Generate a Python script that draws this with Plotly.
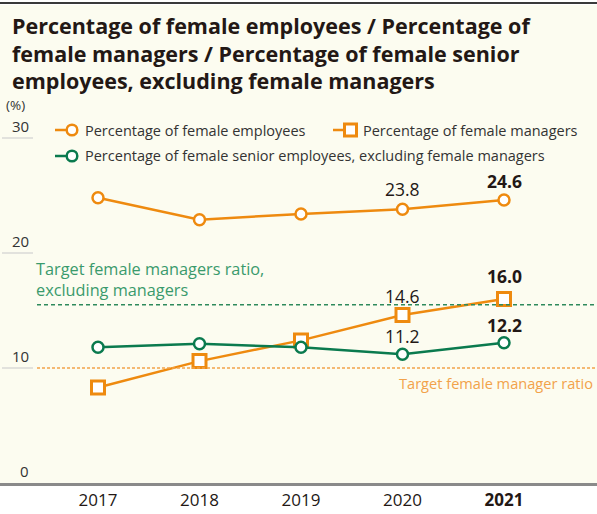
import plotly.graph_objects as go

# ---- data ----
years = [2017, 2018, 2019, 2020, 2021]
female_employees = [24.8, 22.9, 23.4, 23.8, 24.6]
female_managers = [8.3, 10.6, 12.4, 14.6, 16.0]
female_senior = [11.8, 12.1, 11.8, 11.2, 12.2]
y_ticks = [0, 10, 20, 30]
x_ticklabels = ["2017", "2018", "2019", "2020", "<b>2021</b>"]
target_manager_ratio = 10
target_senior_ratio = 15.5

series_names = ["Percentage of female employees",
                "Percentage of female managers",
                "Percentage of female senior employees, excluding female managers"]
title_lines = ["Percentage of female employees / Percentage of",
               "female managers / Percentage of female senior",
               "employees, excluding female managers"]

ORANGE = "#EE8A0F"
GREEN = "#0A7A4E"
TXT = "#231815"
CREAM = "#FCFCF0"
FONT = "Open Sans"

W, H = 597, 514
M_T, M_B = 5, 31
PLOT_H = H - M_T - M_B
PX_PER_UNIT = 11.5
Y_MAX = PLOT_H / PX_PER_UNIT


def px_x(p):
    return p / W


def px_y(p):
    return (H - M_B - p) / PLOT_H


fig = go.Figure()

fig.add_trace(go.Scatter(x=years, y=female_employees, mode="lines+markers",
                         line=dict(color=ORANGE, width=2.5),
                         marker=dict(symbol="circle", size=11, color="white",
                                     line=dict(color=ORANGE, width=2.5)),
                         name=series_names[0], showlegend=False))
fig.add_trace(go.Scatter(x=years, y=female_managers, mode="lines+markers",
                         line=dict(color=ORANGE, width=2.5),
                         marker=dict(symbol="square", size=13, color="white",
                                     line=dict(color=ORANGE, width=3)),
                         name=series_names[1], showlegend=False))
fig.add_trace(go.Scatter(x=years, y=female_senior, mode="lines+markers",
                         line=dict(color=GREEN, width=2.5),
                         marker=dict(symbol="circle", size=11, color="white",
                                     line=dict(color=GREEN, width=2.5)),
                         name=series_names[2], showlegend=False))

shapes = []
annotations = []

# top rule
shapes.append(dict(type="line", xref="paper", yref="paper", x0=0, x1=1,
                   y0=px_y(3), y1=px_y(3), line=dict(color="#3a3a3a", width=2)))

# short gridline stubs on left + tick labels
for t in y_ticks:
    if t > 0:
        shapes.append(dict(type="line", xref="paper", yref="y", x0=px_x(2), x1=px_x(33),
                           y0=t, y1=t, line=dict(color="#d0d0d0", width=1.2)))
    annotations.append(dict(xref="paper", yref="y", x=px_x(31), y=t, text=str(t),
                            xanchor="right", yanchor="bottom", yshift=0, showarrow=False,
                            font=dict(family=FONT, size=15, color="#333")))
annotations.append(dict(xref="paper", yref="paper", x=px_x(4), y=px_y(105.5), text="(%)",
                        xanchor="left", yanchor="middle", showarrow=False,
                        font=dict(family=FONT, size=13.5, color="#333")))

# target lines
shapes.append(dict(type="line", xref="paper", yref="y", x0=px_x(37), x1=1,
                   y0=target_senior_ratio, y1=target_senior_ratio,
                   line=dict(color="#2E8A5C", width=1.3, dash="4px,3px")))
shapes.append(dict(type="line", xref="paper", yref="y", x0=px_x(37), x1=1,
                   y0=target_manager_ratio, y1=target_manager_ratio,
                   line=dict(color="#F2A24A", width=1.3, dash="3px,2px")))
annotations.append(dict(xref="paper", yref="y", x=px_x(34), y=target_senior_ratio,
                        text="Target female managers ratio,<br>excluding managers",
                        xanchor="left", yanchor="bottom", yshift=2, align="left",
                        showarrow=False,
                        font=dict(family=FONT, size=16.3, color="#3A9A6C")))
annotations.append(dict(xref="paper", yref="y", x=px_x(595), y=target_manager_ratio,
                        text="Target female manager ratio",
                        xanchor="right", yanchor="top", yshift=-3,
                        showarrow=False,
                        font=dict(family=FONT, size=14.6, color="#F2A24A")))

# title (one annotation per line)
for i, line in enumerate(title_lines):
    annotations.append(dict(xref="paper", yref="paper", x=px_x(10), y=px_y(25 + 28 * i),
                            text=f"<b>{line}</b>",
                            xanchor="left", yanchor="middle", align="left", showarrow=False,
                            font=dict(family=FONT, size=21.5, color=TXT)))

# legend (manual)
legend_items = [
    (55, 130, ORANGE, "circle", series_names[0]),
    (333, 130, ORANGE, "square", series_names[1]),
    (55, 156, GREEN, "circle", series_names[2]),
]
for x0, yc, col, sym, name in legend_items:
    shapes.append(dict(type="line", xref="paper", yref="paper", x0=px_x(x0), x1=px_x(x0 + 14),
                       y0=px_y(yc), y1=px_y(yc), line=dict(color=col, width=2.5)))
    cx = x0 + 17
    if sym == "circle":
        shapes.append(dict(type="circle", xref="paper", yref="paper",
                           x0=px_x(cx - 5.3), x1=px_x(cx + 5.3),
                           y0=px_y(yc + 5.3), y1=px_y(yc - 5.3),
                           line=dict(color=col, width=2.5), fillcolor="white"))
    else:
        shapes.append(dict(type="rect", xref="paper", yref="paper",
                           x0=px_x(cx - 5.5), x1=px_x(cx + 6.5),
                           y0=px_y(yc + 6), y1=px_y(yc - 6),
                           line=dict(color=col, width=3), fillcolor="white"))
    annotations.append(dict(xref="paper", yref="paper", x=px_x(x0 + 28), y=px_y(yc),
                            text=name, xanchor="left", yanchor="middle", showarrow=False,
                            font=dict(family=FONT, size=14.5, color="#333")))

# value labels
def add_label(series, idx, bold, shift):
    v = series[idx]
    txt = f"{v:.1f}"
    if bold:
        txt = f"<b>{txt}</b>"
    annotations.append(dict(xref="x", yref="y", x=years[idx], y=v, text=txt,
                            xanchor="center", yanchor="middle", yshift=shift,
                            showarrow=False,
                            font=dict(family=FONT, size=17.5, color=TXT)))

add_label(female_employees, 3, False, 20)
add_label(female_employees, 4, True, 19)
add_label(female_managers, 3, False, 19)
add_label(female_managers, 4, True, 23)
add_label(female_senior, 3, False, 18)
add_label(female_senior, 4, True, 18)

x_left = years[0] - 98 / 101.5
x_right = years[0] + (W - 98) / 101.5

fig.update_layout(
    width=W, height=H,
    margin=dict(l=0, r=0, t=M_T, b=M_B),
    paper_bgcolor="white",
    plot_bgcolor=CREAM,
    showlegend=False,
    shapes=shapes,
    annotations=annotations,
    xaxis=dict(range=[x_left, x_right], tickmode="array", tickvals=years,
               ticktext=x_ticklabels, showgrid=False, zeroline=False,
               showline=True, linecolor="#8a8a8a", linewidth=2.5, ticks="",
               tickfont=dict(family=FONT, size=17, color=TXT), fixedrange=True),
    yaxis=dict(range=[0, Y_MAX], showgrid=False, zeroline=False, showticklabels=False,
               showline=False, fixedrange=True),
)

fig.write_html("out.html",
               config={"displayModeBar": False},
               post_script="document.body.style.margin='0';"
                           "document.body.style.overflow='hidden';")
